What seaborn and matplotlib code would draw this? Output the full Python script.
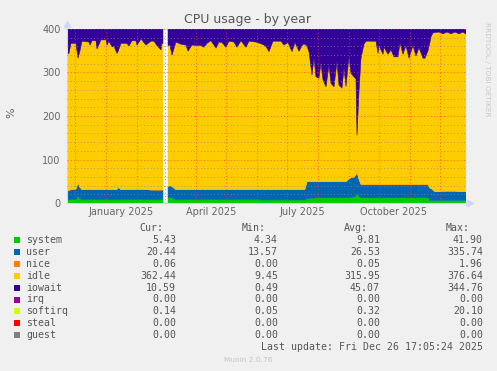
"""
Munin style CPU usage chart (by year), stacked areas.
"""

import numpy as np
import pandas as pd
import matplotlib
matplotlib.use("Agg")
import matplotlib.pyplot as plt
import matplotlib.dates as mdates
from matplotlib.ticker import MultipleLocator, NullFormatter
import seaborn as sns

# ---- data, day offsets from 2024-11-23 ----
start_date = "2024-11-23"
nan = np.nan

days = [0, 2, 4, 9, 11, 13, 15, 22, 23, 25, 29, 30, 34, 39, 40, 42, 45, 47, 50, 51,
        54, 60, 62, 65, 69, 70, 74, 79, 84, 87, 90, 94, 95, 96,
        98,
        101, 103, 105, 109, 114, 119, 121, 125, 134, 137, 140, 144, 149, 152, 155,
        159, 162, 167, 170, 174, 179, 182, 189, 194, 197, 199, 202, 206, 214, 217,
        221, 225, 228, 232, 236,
        238, 240, 242, 245, 247, 249, 252, 254, 256, 259, 262, 264, 267, 270, 272,
        275, 277, 279, 282, 284, 287, 289, 290, 292, 294, 297,
        299, 309, 311, 312, 316, 317, 321, 324, 327, 331, 333, 336, 339, 342, 346,
        349, 352, 356, 358, 361, 363, 364, 366, 368, 372, 376, 380, 384, 388, 392,
        396, 399]

system = [7, 7, 8, 8, 15, 10, 8, 8, 8, 8, 8, 8, 8, 8, 8, 8, 8, 8, 8, 8,
          8, 8, 8, 8, 8, 8, 8, 8, 8, 8, 8, 8, 8, 8,
          nan,
          13, 13, 12, 8, 8, 8, 8, 8, 8, 8, 8, 8, 8, 8, 8,
          8, 8, 8, 8, 8, 8, 8, 8, 7, 7, 7, 7, 7, 7, 7,
          7, 7, 7, 7, 7,
          7, 10, 10, 11, 11, 12, 12, 12, 12, 12, 12, 12, 12, 12, 12,
          12, 12, 12, 12, 13, 14, 17, 21, 15, 12, 12,
          12, 12, 12, 12, 12, 12, 12, 12, 12, 12, 12, 12, 12, 12, 12,
          12, 12, 12, 12, 12, 6, 6, 6, 6, 6, 6, 6, 6, 6, 6,
          6, 5.43]

user = [21, 22, 23, 24, 32, 26, 23, 23, 23, 23, 23, 23, 23, 23, 23, 23, 23, 23, 23, 28,
        23, 23, 23, 23, 23, 23, 23, 23, 22, 22, 22, 22, 22, 22,
        nan,
        25, 27, 26, 23, 23, 23, 23, 23, 23, 23, 23, 23, 23, 23, 23,
        23, 23, 23, 23, 23, 23, 23, 23, 24, 24, 24, 24, 24, 24, 24,
        24, 24, 24, 24, 24,
        25, 40, 39, 38, 38, 37, 37, 37, 37, 37, 37, 37, 37, 37, 37,
        37, 37, 37, 44, 45, 46, 48, 51, 40, 31, 31,
        31, 31, 31, 31, 31, 31, 31, 31, 31, 31, 31, 31, 31, 31, 31,
        31, 31, 31, 31, 31, 28, 28, 24, 20, 20, 20, 20, 20, 20, 20,
        20, 20.44]

nice = [0, 0, 0, 0, 0, 0, 0, 0, 0, 0, 0, 0, 0, 0, 0, 0, 0, 0, 0, 0,
        0, 0, 0, 0, 0, 0, 0, 0, 0, 0, 0, 0, 0, 0,
        nan,
        0, 0, 0, 0, 0, 0, 0, 0, 0, 0, 0, 0, 0, 0, 0,
        0, 0, 0, 0, 0, 0, 0, 0, 0, 0, 0, 0, 0, 0, 0,
        0, 0, 0, 0, 0,
        0, 0, 0, 0, 0, 0, 0, 0, 0, 0, 0, 0, 0, 0, 0,
        0, 0, 0, 0, 0, 0, 0, 0, 0, 0, 0,
        0, 0, 0, 0, 0, 0, 0, 0, 0, 0, 0, 0, 0, 0, 0,
        0, 0, 0, 0, 0, 0, 0, 0, 0, 0, 1.5, 1.5, 1.5, 1.5, 0,
        0, 0.06]

idle = [314, 315, 336, 335, 286, 314, 341, 339, 332, 342, 342, 323, 344, 344, 332, 341, 328, 329, 313, 312,
        336, 336, 330, 342, 342, 332, 346, 332, 342, 342, 332, 322, 340, 335,
        nan,
        324, 323, 302, 339, 334, 332, 318, 332, 331, 327, 336, 342, 325, 339, 338,
        327, 341, 339, 327, 342, 327, 341, 339, 335, 332, 329, 317, 341, 341, 332,
        338, 317, 338, 318, 334,
        333, 310, 299, 245, 284, 241, 238, 273, 234, 218, 268, 226, 218, 276, 222,
        215, 261, 219, 280, 240, 230, 220, 84, 201, 290, 322,
        329, 329, 301, 319, 299, 315, 299, 309, 293, 293, 325, 299, 319, 290, 319,
        295, 314, 290, 290, 307, 336, 348, 361, 366, 367, 361.5, 365.5, 361.5, 365.5, 363,
        367, 362.44]

iowait = [58, 56, 33, 33, 67, 50, 28, 30, 37, 27, 27, 46, 25, 25, 37, 28, 41, 40, 56, 52,
          33, 33, 39, 27, 27, 37, 23, 37, 28, 28, 38, 48, 30, 35,
          nan,
          38, 37, 60, 30, 35, 37, 51, 37, 38, 42, 33, 27, 44, 30, 31,
          42, 28, 30, 42, 27, 42, 28, 30, 34, 37, 40, 52, 28, 28, 37,
          31, 52, 31, 51, 35,
          35, 40, 52, 106, 67, 110, 113, 78, 117, 133, 83, 125, 133, 75, 129,
          136, 90, 132, 64, 102, 110, 115, 244, 144, 67, 35,
          28, 28, 56, 38, 58, 42, 58, 48, 64, 64, 32, 58, 38, 67, 38,
          62, 43, 67, 67, 50, 30, 18, 9, 8, 7, 11, 7, 11, 7, 11,
          7, 10.59]

# legend table
legend_names = ["system", "user", "nice", "idle", "iowait", "irq", "softirq", "steal", "guest"]
legend_colors = ["#00CC00", "#0066B3", "#FF8000", "#FFCC00", "#330099",
                 "#990099", "#CCFF00", "#FF0000", "#808080"]
cur = [5.43, 20.44, 0.06, 362.44, 10.59, 0.00, 0.14, 0.00, 0.00]
vmin = [4.34, 13.57, 0.00, 9.45, 0.49, 0.00, 0.05, 0.00, 0.00]
vavg = [9.81, 26.53, 0.05, 315.95, 45.07, 0.00, 0.32, 0.00, 0.00]
vmax = [41.90, 335.74, 1.96, 376.64, 344.76, 0.00, 20.10, 0.00, 0.00]

label_months = [1, 4, 7, 10]

# ---- style ----
sns.set_style("white")
plt.rcParams["font.family"] = ["DejaVu Sans"]

BACK = "#F0F0F0"
FONT = "#666666"
AXIS = "#CFD6F8"
MGRID = (1.0, 0.2, 0.2, 0.3)
GRID = (0.55, 0.55, 0.55, 0.3)

W, H = 497, 371


def fx(px):
    return px / W


def fy(py):
    return 1 - py / H


fig = plt.figure(figsize=(W / 100, H / 100), dpi=100, facecolor=BACK)
ax = fig.add_axes([fx(67), fy(203), 399 / W, 174 / H])
ax.set_facecolor("white")

base = pd.Timestamp(start_date)
dates = base + pd.to_timedelta(days, unit="D")

palette = sns.color_palette(legend_colors)
polys = ax.stackplot(dates, system, user, nice, idle, iowait,
                     colors=palette[:5], linewidth=0)
for p in polys:
    p.set_edgecolor(p.get_facecolor())
    p.set_linewidth(0.4)

ax.set_xlim(base, base + pd.Timedelta(days=399))
ax.set_ylim(0, 400)

# y axis
ax.yaxis.set_major_locator(MultipleLocator(100))
ax.yaxis.set_minor_locator(MultipleLocator(20))
ax.tick_params(axis="y", which="major", direction="out", length=2.2, width=0.8,
               color=(1.0, 0.2, 0.2, 0.5), labelcolor=FONT, labelsize=7, pad=2.5)
ax.tick_params(axis="y", which="minor", direction="out", length=1.5, width=0.6,
               color=GRID)

# x axis: monthly ticks, labels every three months mid-month
ax.xaxis.set_major_locator(mdates.MonthLocator())
ax.xaxis.set_major_formatter(NullFormatter())
ax.xaxis.set_minor_locator(mdates.MonthLocator(bymonth=label_months, bymonthday=16))
ax.xaxis.set_minor_formatter(mdates.DateFormatter("%B %Y"))
ax.tick_params(axis="x", which="major", direction="out", length=2.2, width=0.8,
               color=(1.0, 0.2, 0.2, 0.5))
ax.tick_params(axis="x", which="minor", length=0, labelcolor=FONT, labelsize=7, pad=3)

# grid on top of the areas
ax.set_axisbelow(False)
dots = (0, (1, 3))
ax.yaxis.grid(True, which="minor", color=GRID, linestyle=dots, linewidth=0.6)
ax.yaxis.grid(True, which="major", color=MGRID, linestyle=dots, linewidth=0.6)
ax.xaxis.grid(True, which="major", color=MGRID, linestyle=dots, linewidth=0.6)

for side in ["top", "right"]:
    ax.spines[side].set_visible(False)
for side in ["left", "bottom"]:
    ax.spines[side].set_color(AXIS)
    ax.spines[side].set_linewidth(0.8)

# axis arrows
ax.plot([0], [1.03], marker="^", ms=4, color=AXIS, transform=ax.transAxes, clip_on=False)
ax.plot([1.01], [0], marker=">", ms=4, color=AXIS, transform=ax.transAxes, clip_on=False)

# texts around the graph
fig.text(fx(248), fy(19), "CPU usage - by year", ha="center", va="center",
         fontsize=9, color="#555555")
fig.text(fx(11), fy(113), "%", rotation=90, ha="center", va="center",
         fontsize=8, color=FONT)
fig.text(fx(487), fy(22), "RRDTOOL / TOBI OETIKER", rotation=270, ha="center",
         va="top", fontsize=5.3, color="#C8C8C8")

# legend table
mono = dict(family="DejaVu Sans Mono", fontsize=7.1, color="#555555")
for hx, h in zip([163, 266, 368, 470], ["Cur:", "Min:", "Avg:", "Max:"]):
    fig.text(fx(hx), fy(228), h, ha="right", va="center", **mono)

for i, name in enumerate(legend_names):
    ry = 240 + 11.9 * i
    fig.add_artist(plt.Rectangle((fx(14), fy(ry + 3)), 6 / W, 6 / H,
                                 transform=fig.transFigure, color=palette[i], lw=0))
    fig.text(fx(26), fy(ry), name, ha="left", va="center", **mono)
    for vx, vals in zip([176, 278, 380, 483], [cur, vmin, vavg, vmax]):
        fig.text(fx(vx), fy(ry), f"{vals[i]:.2f}", ha="right", va="center", **mono)

fig.text(fx(483), fy(347), "Last update: Fri Dec 26 17:05:24 2025", ha="right",
         va="center", **mono)
fig.text(fx(248), fy(360), "Munin 2.0.76", ha="center", va="center",
         fontsize=5.3, color="#C4C4C4")

fig.savefig("out.png", dpi=100, facecolor=BACK)
